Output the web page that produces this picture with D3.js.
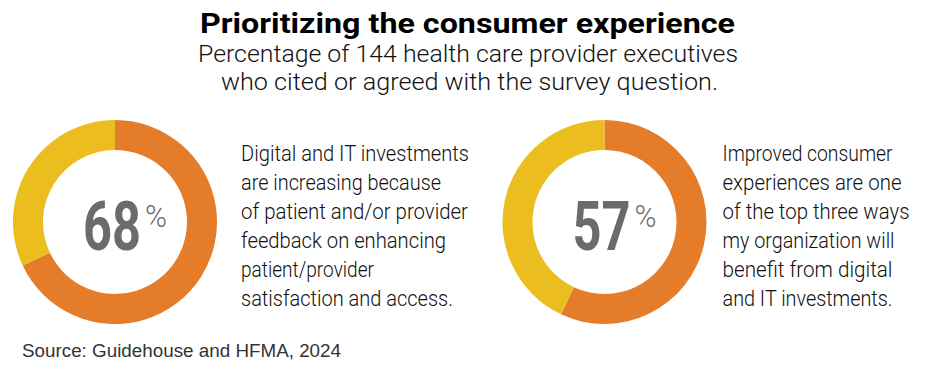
<!DOCTYPE html>
<html><head><meta charset="utf-8">
<script src="https://cdn.jsdelivr.net/npm/d3@7"></script>
<style>body{margin:0;background:#fff}svg{display:block}</style>
</head><body>
<script>
const title = "Prioritizing the consumer experience";
const subtitleLines = ["Percentage of 144 health care provider executives", "who cited or agreed with the survey question."];
const source = "Source: Guidehouse and HFMA, 2024";
const percents = [68, 57];
const descriptions = [
  ["Digital and IT investments","are increasing because","of patient and/or provider","feedback on enhancing","patient/provider","satisfaction and access."],
  ["Improved consumer","experiences are one","of the top three ways","my organization will","benefit from digital","and IT investments."]
];

const W = 930, H = 369;
const svg = d3.select("body").append("svg").attr("width", W).attr("height", H);
const defs = svg.append("defs");

function fit(sel, w) { sel.attr("textLength", w).attr("lengthAdjust", "spacingAndGlyphs"); return sel; }
// condense a text horizontally with a real transform so its box is exact
function squeeze(parent, x, y, w, attrs, str) {
  const g = parent.append("g");
  const t = g.append("text");
  Object.entries(attrs).forEach(([k, v]) => t.attr(k, v));
  t.text(str);
  const len = t.node().getComputedTextLength();
  g.attr("transform", `translate(${x},${y}) scale(${w / len},1)`);
  return t;
}

// title
fit(svg.append("text").attr("x", 200).attr("y", 33).attr("font-family", "Roboto, 'Liberation Sans', sans-serif")
  .attr("font-weight", 700).attr("font-size", 28).attr("fill", "#000").text(title), 535);
const subX = [198, 221], subW = [540, 497], subY = [62, 90];
subtitleLines.forEach((t, i) => {
  fit(svg.append("text").attr("x", subX[i]).attr("y", subY[i]).attr("font-family", "Roboto, 'Liberation Sans', sans-serif")
    .attr("font-weight", 300).attr("font-size", 24).attr("fill", "#111").text(t), subW[i]);
});

// donuts
const centers = [115, 604.5], cy = 222, R = 102, r = 72;
const colors = [
  {id: "gO", dark: "#E47C2A", mid: "#F58F3C", inner: "#EC8532"},
  {id: "gY", dark: "#EBBD1E", mid: "#F5D033", inner: "#F0C628"}
];
const arc = d3.arc().innerRadius(r).outerRadius(R);
const pie = d3.pie().sort(null).value(d => d);
const textX = [241, 722.5], textW = [
  [228, 200, 227, 205, 133, 212],
  [170, 179, 187, 172, 170, 170]
];
const baseY = 161, lineH = 29;

percents.forEach((p, k) => {
  const cx = centers[k];
  colors.forEach(c => {
    const g = defs.append("radialGradient").attr("id", c.id + k).attr("gradientUnits", "userSpaceOnUse")
      .attr("cx", cx).attr("cy", cy).attr("r", R);
    g.append("stop").attr("offset", 0.70).attr("stop-color", c.inner);
    g.append("stop").attr("offset", 0.82).attr("stop-color", c.mid);
    g.append("stop").attr("offset", 0.90).attr("stop-color", c.mid);
    g.append("stop").attr("offset", 1).attr("stop-color", c.dark);
  });
  const g = svg.append("g").attr("transform", `translate(${cx},${cy})`);
  g.selectAll("path").data(pie([p, 100 - p])).join("path")
    .attr("d", arc).attr("fill", (d, i) => `url(#${colors[i].id}${k})`);
  // big number
  squeeze(g, -32, 28, 58, {"font-family": "Roboto, 'Liberation Sans', sans-serif", "font-weight": 700,
    "fill": "#6d6a6b", "font-size": 68}, String(p));
  squeeze(g, 30, 5, 22, {"font-family": "Roboto, 'Liberation Sans', sans-serif", "font-weight": 300,
    "fill": "#6d6a6b", "font-size": 32}, "%");
  // description
  descriptions[k].forEach((t, i) => {
    fit(svg.append("text").attr("x", textX[k]).attr("y", baseY + i * lineH)
      .attr("font-family", "Roboto, 'Liberation Sans', sans-serif").attr("font-weight", 300)
      .attr("font-size", 22).attr("fill", "#111").text(t), textW[k][i]);
  });
});

fit(svg.append("text").attr("x", 22).attr("y", 357).attr("font-family", "'Liberation Sans', Arial, sans-serif")
  .attr("font-size", 18).attr("fill", "#333").text(source), 319);
</script>
</body></html>
